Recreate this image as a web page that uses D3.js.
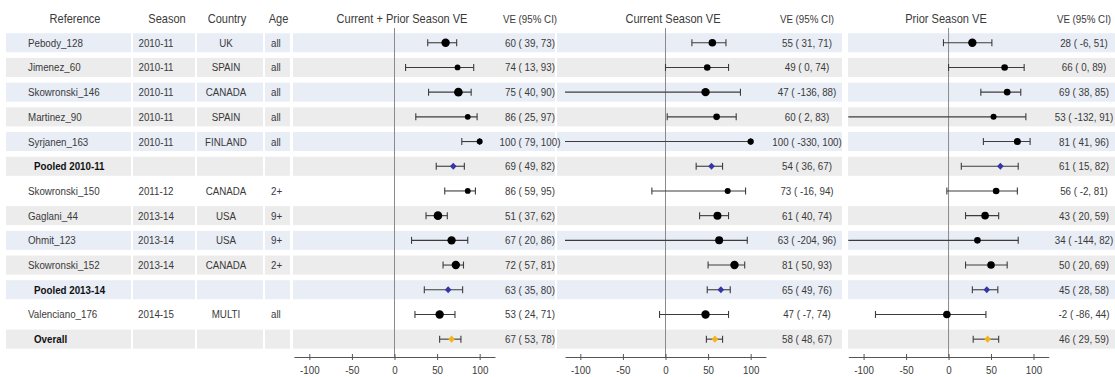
<!DOCTYPE html>
<html>
<head>
<meta charset="utf-8">
<script src="https://cdn.jsdelivr.net/npm/d3@7"></script>
<style>
  html, body { margin: 0; padding: 0; background: #fff; }
  svg { display: block; }
  text { font-family: "Liberation Sans", Arial, sans-serif; font-size: 11.5px; fill: #3a3a3a; }
  .bold { font-weight: bold; fill: #111; }
  .hdr { font-size: 13px; }
</style>
</head>
<body>
<svg id="chart" width="1115" height="377"></svg>
<script>
// ---------------- DATA ----------------
const references = ["Pebody_128","Jimenez_60","Skowronski_146","Martinez_90","Syrjanen_163","Pooled 2010-11",
  "Skowronski_150","Gaglani_44","Ohmit_123","Skowronski_152","Pooled 2013-14","Valenciano_176","Overall"];
const seasons   = ["2010-11","2010-11","2010-11","2010-11","2010-11","","2011-12","2013-14","2013-14","2013-14","","2014-15",""];
const countries = ["UK","SPAIN","CANADA","SPAIN","FINLAND","","CANADA","USA","USA","CANADA","","MULTI",""];
const ages      = ["all","all","all","all","all","","2+","9+","9+","2+","","all",""];
const rowKinds  = ["study","study","study","study","study","pooled","single","study","study","study","pooled","single","overall"];

const panelTitles = ["Current + Prior Season VE","Current Season VE","Prior Season VE"];
const tickValues = [-100,-50,0,50,100];

// Current + Prior season VE
const cpEst = [60,74,75,86,100,69,86,51,67,72,63,53,67];
const cpLo  = [39,13,40,25,79,49,59,37,20,57,35,24,53];
const cpHi  = [73,93,90,97,100,82,95,62,86,81,80,71,78];
const cpWt  = [17.6,8.4,18.5,8.4,9,0,8.4,18.5,17.6,17.6,0,17.6,0];

// Current season VE
const curEst = [55,49,47,60,100,54,73,61,63,81,65,47,58];
const curLo  = [31,0,-136,2,-330,36,-16,40,-204,50,49,-7,48];
const curHi  = [71,74,88,83,100,67,94,74,96,93,76,74,67];
const curWt  = [14.4,11,17.6,11,10,0,9,16,16,17.6,0,17.6,0];

// Prior season VE
const priEst = [28,66,69,53,81,61,56,43,34,50,45,-2,46];
const priLo  = [-6,0,38,-132,41,15,-2,20,-144,20,28,-86,29];
const priHi  = [51,89,85,91,96,82,81,59,82,69,58,44,59];
const priWt  = [17.6,11,11,9,12.3,0,11,14.4,11,14.4,0,14.4,0];

const panels = [
  {title: panelTitles[0], est: cpEst, lo: cpLo, hi: cpHi, wt: cpWt},
  {title: panelTitles[1], est: curEst, lo: curLo, hi: curHi, wt: curWt},
  {title: panelTitles[2], est: priEst, lo: priLo, hi: priHi, wt: priWt}
];

// ---------------- LAYOUT ----------------
const svg = d3.select("#chart");
const nRows = references.length;
const y = d3.scaleBand().domain(d3.range(nRows)).range([30.4, 351.5]).paddingInner(0.23).paddingOuter(0.115);
const yc = i => y(i) + y.bandwidth() / 2;
const SX = 0.85; // horizontal condensation to mimic a narrow face

function place(sel, fx, fy) {
  return sel.attr("transform", (d, i) => `translate(${fx(d, i)},${fy(d, i)}) scale(${SX},1)`);
}
function label(parent, x, yv, str, anchor, cls) {
  const t = parent.append("text").attr("transform", `translate(${x},${yv}) scale(${SX},1)`).text(str);
  if (anchor) t.attr("text-anchor", anchor);
  if (cls) t.attr("class", cls);
  return t;
}

const panelGeom = [
  {x0: 294.0, x1: 495.0, textX: 530, titleX: 402, block: [293, 555]},
  {x0: 565.0, x1: 766.0, textX: 807, titleX: 673, block: [557, 842]},
  {x0: 848.3, x1: 1048.8, textX: 1084, titleX: 946, block: [848, 1115]}
];
const domain = [-118, 118];

const leftCells = [[6,131],[133,195],[197,263],[265,290]];
const blue = "#e8edf6", gray = "#ececec";
function rowFill(i) {
  const k = rowKinds[i];
  if (k === "single") return "#ffffff";
  if (k === "overall") return gray;
  return i % 2 === 0 ? blue : gray;
}

// Row stripes
const cells = [...leftCells, ...panelGeom.map(p => p.block)];
d3.range(nRows).forEach(i => {
  svg.selectAll(null).data(cells).enter().append("rect")
    .attr("x", d => d[0]).attr("width", d => d[1] - d[0])
    .attr("y", y(i)).attr("height", y.bandwidth())
    .attr("fill", rowFill(i));
});

// Header
const headerY = 23;
label(svg, 75, headerY, "Reference", "middle", "hdr");
label(svg, 167, headerY, "Season", "middle", "hdr");
label(svg, 227, headerY, "Country", "middle", "hdr");
label(svg, 278.5, headerY, "Age", "middle", "hdr");

// Left table columns
const isBoldRow = i => rowKinds[i] === "pooled" || rowKinds[i] === "overall";
place(svg.selectAll(".ref").data(references).enter().append("text")
  .attr("class", (d, i) => isBoldRow(i) ? "bold" : null).text(d => d),
  (d, i) => isBoldRow(i) ? 34 : 28, (d, i) => yc(i) + 4);
place(svg.selectAll(".season").data(seasons).enter().append("text")
  .attr("text-anchor", "middle").text(d => d), () => 156, (d, i) => yc(i) + 4);
place(svg.selectAll(".country").data(countries).enter().append("text")
  .attr("text-anchor", "middle").text(d => d), () => 226, (d, i) => yc(i) + 4);
place(svg.selectAll(".age").data(ages).enter().append("text")
  .text(d => d), () => 271, (d, i) => yc(i) + 4);

// Marker size scale
const rScale = d3.scaleSqrt().domain([0, 18.5]).range([0, 4.3]);
const axisY = 357;
const diamond = (w, h) => `M0,${-h}L${w},0L0,${h}L${-w},0Z`;

panels.forEach((p, pi) => {
  const g = panelGeom[pi];
  const x = d3.scaleLinear().domain(domain).range([g.x0, g.x1]);
  const gp = svg.append("g");

  // titles
  label(gp, g.titleX, headerY, p.title, "middle", "hdr");
  label(gp, g.textX, headerY, "VE (95% CI)", "middle");

  // zero line
  gp.append("line").attr("x1", x(0)).attr("x2", x(0)).attr("y1", 28).attr("y2", axisY)
    .attr("stroke", "#8a8a8a").attr("stroke-width", 1);

  // axis
  const axis = d3.axisBottom(x).tickValues(tickValues).tickFormat(d => String(d))
    .tickSizeOuter(0).tickSizeInner(3).tickPadding(6);
  const ga = gp.append("g").attr("transform", `translate(0,${axisY})`).call(axis);
  ga.select(".domain").attr("stroke", "#555");
  ga.selectAll(".tick line").attr("y1", -3).attr("y2", 3).attr("stroke", "#555");
  ga.selectAll(".tick text").attr("font-family", null).attr("font-size", null).attr("fill", null)
    .attr("transform", `scale(${SX},1)`);
  ga.attr("font-family", null).attr("font-size", null);

  // CIs
  const clamp = v => Math.max(domain[0], Math.min(domain[1], v));
  d3.range(nRows).forEach(i => {
    const lo = p.lo[i], hi = p.hi[i], c = yc(i);
    const col = "#3c3c3c";
    gp.append("line").attr("x1", x(clamp(lo))).attr("x2", x(clamp(hi)))
      .attr("y1", c).attr("y2", c).attr("stroke", col).attr("stroke-width", 1.1);
    if (lo >= domain[0]) gp.append("line").attr("x1", x(lo)).attr("x2", x(lo))
      .attr("y1", c - 3.5).attr("y2", c + 3.5).attr("stroke", col).attr("stroke-width", 1.1);
    if (hi <= domain[1]) gp.append("line").attr("x1", x(hi)).attr("x2", x(hi))
      .attr("y1", c - 3.5).attr("y2", c + 3.5).attr("stroke", col).attr("stroke-width", 1.1);

    const k = rowKinds[i];
    if (k === "pooled" || k === "overall") {
      gp.append("path").attr("d", diamond(3.3, 3.6))
        .attr("transform", `translate(${x(p.est[i])},${c})`)
        .attr("fill", k === "pooled" ? "#3535a8" : "#f2b418");
    } else {
      gp.append("circle").attr("cx", x(p.est[i])).attr("cy", c).attr("r", rScale(p.wt[i])).attr("fill", "#000");
    }

    label(gp, g.textX, c + 4, `${p.est[i]} ( ${p.lo[i]}, ${p.hi[i]})`, "middle");
  });
});
</script>
</body>
</html>
